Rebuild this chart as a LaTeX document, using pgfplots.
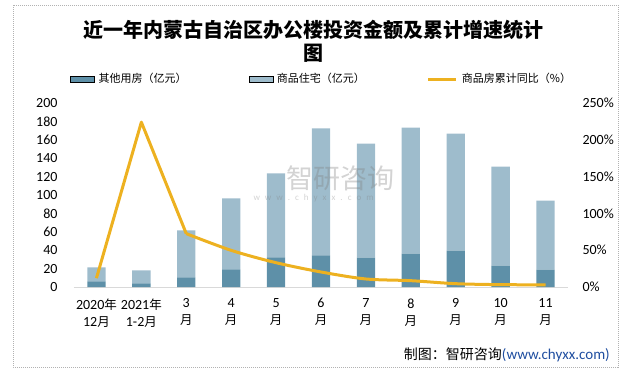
\documentclass[border=0pt]{standalone}
\usepackage{fontspec}
\setmainfont{Carlito}
\newfontfamily\cjk{Noto Sans CJK SC}
\usepackage{pgfplots}
\pgfplotsset{compat=1.18}
\definecolor{darkb}{RGB}{94,144,168}
\definecolor{lightb}{RGB}{158,188,204}
\definecolor{gold}{RGB}{237,177,32}
\definecolor{axgray}{RGB}{217,217,217}
\definecolor{urlblue}{RGB}{31,78,160}
\newcommand\cj[1]{{\cjk\fontsize{12.5bp}{15bp}\selectfont #1}}
\pgfplotsset{
 barleg/.style={legend image code/.code={\fill[##1] (0bp,-2.75bp) rectangle (24bp,2.75bp);}},
 lineleg/.style={legend image code/.code={\draw[##1] (0bp,0bp) -- (28bp,0bp);}},
 base/.style={at={(74bp,-287bp)}, anchor=south west, scale only axis,
   width=494bp, height=184bp, xmin=-0.5, xmax=10.5, ymin=0,
   major tick length=0pt, /pgf/number format/assume math mode=true,
   tick label style={font=\fontsize{14bp}{17bp}\selectfont}},
}
\begin{document}
\begin{tikzpicture}
\path (0bp,0bp) rectangle (641bp,-372bp);
\draw[gray!60, line width=0.6bp, dash pattern=on 1.2bp off 0.8bp] (13bp,-5bp) rectangle (618bp,-367bp);
\node[font=\cjk\bfseries\fontsize{20bp}{24bp}\selectfont] at (313bp,-30bp) {近一年内蒙古自治区办公楼投资金额及累计增速统计};
\node[font=\cjk\bfseries\fontsize{20bp}{24bp}\selectfont] at (313bp,-53bp) {图};

\begin{axis}[base, ybar stacked, bar width=18.3bp, ymax=200, ytick={0,20,...,200},
  xtick={0,...,10},
  xticklabels={{2020\cj{年}\\12\cj{月}},{2021\cj{年}\\1-2\cj{月}},{3\\\cj{月}},{4\\\cj{月}},{5\\\cj{月}},{6\\\cj{月}},{7\\\cj{月}},{8\\\cj{月}},{9\\\cj{月}},{10\\\cj{月}},{11\\\cj{月}}},
  xticklabel style={align=center, yshift=-8bp},
  yticklabel style={anchor=east, xshift=-13bp},
  axis x line*=bottom, axis y line*=left, y axis line style={draw=none},
  x axis line style={draw=axgray, line width=1bp, -}]
\addplot[fill=darkb, draw=none] coordinates {(0,6.2) (1,4.0) (2,10.5) (3,19.2) (4,32.2) (5,34.4) (6,31.9) (7,36.2) (8,39.5) (9,23.2) (10,18.8)};
\addplot[fill=lightb, draw=none] coordinates {(0,15.2) (1,14.1) (2,51.1) (3,77.2) (4,91.3) (5,138.0) (6,123.9) (7,137.0) (8,127.1) (9,107.6) (10,75.0)};
\end{axis}

\begin{axis}[base, ymax=250, ytick={0,50,...,250}, yticklabel={\pgfmathprintnumber{\tick}\%},
  yticklabel style={anchor=west, xshift=11bp},
  axis y line*=right, axis x line=none, y axis line style={draw=none},
  legend columns=3,
  legend style={at={(-0.0081,1.1304)}, anchor=west, draw=none, fill=none, inner sep=0pt,
    font=\cjk\fontsize{11bp}{13bp}\selectfont, nodes={inner sep=0pt},
    /tikz/every odd column/.append style={column sep=4bp},
    /tikz/every even column/.append style={column sep=61bp}}]
\addlegendimage{barleg, fill=darkb}
\addlegendentry{\makebox[89bp][l]{其他用房（亿元）}}
\addlegendimage{barleg, fill=lightb}
\addlegendentry{\makebox[89bp][l]{商品住宅（亿元）}}
\addplot[gold, line width=3bp, line join=round, lineleg] coordinates {(0,12) (1,224) (2,72.5)};
\addlegendentry{商品房累计同比（\%）}
\addplot[gold, line width=3bp, line join=round, smooth, tension=0.5, forget plot] coordinates {(2,72.5) (3,49.8) (4,33) (5,20.4) (6,10.9) (7,8.6) (8,4.5) (9,3.2) (10,3.0)};
\end{axis}

\node[text=gray, opacity=0.35, font=\cjk\fontsize{27bp}{30bp}\selectfont, anchor=west] at (283bp,-178bp) {智研咨询};
\node[text=gray, opacity=0.35, font=\fontsize{9bp}{10bp}\selectfont, anchor=west] at (250bp,-198bp) {w\hspace{5bp}w\hspace{5bp}w\hspace{5bp}.\hspace{5bp}c\hspace{5bp}h\hspace{5bp}y\hspace{5bp}x\hspace{5bp}x\hspace{5bp}.\hspace{5bp}c\hspace{5bp}o\hspace{5bp}m};
\node[anchor=east, inner sep=0pt] at (610bp,-355bp) {{\cjk\fontsize{14bp}{16bp}\selectfont 制图：智研咨询}{\color{urlblue}\fontsize{15bp}{17bp}\selectfont(www.chyxx.com)}};
\end{tikzpicture}
\end{document}
